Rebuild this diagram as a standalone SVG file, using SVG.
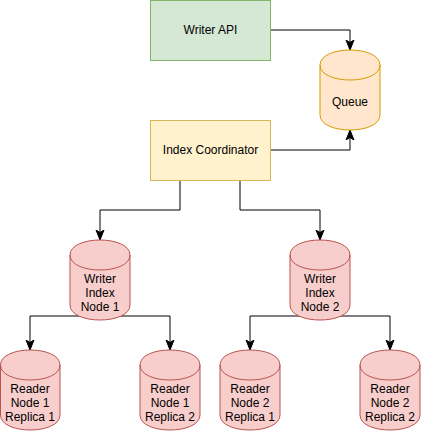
<svg xmlns="http://www.w3.org/2000/svg" width="421" height="431" viewBox="0 0 421 431">
<style>
text{font-family:"Liberation Sans",Arial,Helvetica,sans-serif;font-size:12px;fill:#000;text-anchor:middle}
.edge{fill:none;stroke:#000;stroke-width:1}
.red{fill:#f8cecc;stroke:#b85450;stroke-width:1}
.orange{fill:#ffe6cc;stroke:#d79b00;stroke-width:1}
.green{fill:#d5e8d4;stroke:#82b366;stroke-width:1}
.yellow{fill:#fff2cc;stroke:#d6b656;stroke-width:1}
.arc{fill:none}
</style>
<defs>
<marker id="arr" markerUnits="userSpaceOnUse" markerWidth="10" markerHeight="10" viewBox="0 0 10 10" refX="10" refY="5" orient="auto">
<path d="M0,1 L10,5 L0,9 L2.5,5 Z" fill="#000" stroke="#000" stroke-width="1"/>
</marker>
</defs>
<g id="connectors">
<path class="edge" d="M270,30 L350,30 L350,50" marker-end="url(#arr)"/>
<path class="edge" d="M270,150 L350,150 L350,130" marker-end="url(#arr)"/>
<path class="edge" d="M180,180 L180,210 L100,210 L100,240" marker-end="url(#arr)"/>
<path class="edge" d="M240,180 L240,210 L320,210 L320,240" marker-end="url(#arr)"/>
<path class="edge" d="M100,316 L30,316 L30,350" marker-end="url(#arr)"/>
<path class="edge" d="M100,316 L170,316 L170,350" marker-end="url(#arr)"/>
<path class="edge" d="M320,316 L250,316 L250,350" marker-end="url(#arr)"/>
<path class="edge" d="M320,316 L390,316 L390,350" marker-end="url(#arr)"/>
</g>
<g id="writer-api">
<rect class="green" x="150.5" y="0.5" width="120" height="60"/>
<text x="210.5" y="34">Writer API</text>
</g>
<g id="index-coordinator">
<rect class="yellow" x="150.5" y="120.5" width="120" height="60"/>
<text x="210.5" y="154">Index Coordinator</text>
</g>
<g id="queue">
<path class="orange" d="M320,65 C320,45 380,45 380,65 L380,115 C380,135 320,135 320,115 Z"/>
<path class="orange arc" d="M320,65 C320,85 380,85 380,65"/>
<text x="350" y="106">Queue</text>
</g>
<g id="writer-index-node-1">
<path class="red" d="M70,255 C70,235 130,235 130,255 L130,305 C130,325 70,325 70,305 Z"/>
<path class="red arc" d="M70,255 C70,275 130,275 130,255"/>
<text x="100" y="283">Writer</text>
<text x="100" y="297">Index</text>
<text x="100" y="311">Node 1</text>
</g>
<g id="writer-index-node-2">
<path class="red" d="M290,255 C290,235 350,235 350,255 L350,305 C350,325 290,325 290,305 Z"/>
<path class="red arc" d="M290,255 C290,275 350,275 350,255"/>
<text x="320" y="283">Writer</text>
<text x="320" y="297">Index</text>
<text x="320" y="311">Node 2</text>
</g>
<g id="reader-node-1-replica-1">
<path class="red" d="M0.5,365 C0.5,345 60,345 60,365 L60,415 C60,435 0.5,435 0.5,415 Z"/>
<path class="red arc" d="M0.5,365 C0.5,385 60,385 60,365"/>
<text x="30" y="393">Reader</text>
<text x="30" y="407">Node 1</text>
<text x="30" y="421">Replica 1</text>
</g>
<g id="reader-node-1-replica-2">
<path class="red" d="M140,365 C140,345 200,345 200,365 L200,415 C200,435 140,435 140,415 Z"/>
<path class="red arc" d="M140,365 C140,385 200,385 200,365"/>
<text x="170" y="393">Reader</text>
<text x="170" y="407">Node 1</text>
<text x="170" y="421">Replica 2</text>
</g>
<g id="reader-node-2-replica-1">
<path class="red" d="M220,365 C220,345 280,345 280,365 L280,415 C280,435 220,435 220,415 Z"/>
<path class="red arc" d="M220,365 C220,385 280,385 280,365"/>
<text x="250" y="393">Reader</text>
<text x="250" y="407">Node 2</text>
<text x="250" y="421">Replica 1</text>
</g>
<g id="reader-node-2-replica-2">
<path class="red" d="M360,365 C360,345 420,345 420,365 L420,415 C420,435 360,435 360,415 Z"/>
<path class="red arc" d="M360,365 C360,385 420,385 420,365"/>
<text x="390" y="393">Reader</text>
<text x="390" y="407">Node 2</text>
<text x="390" y="421">Replica 2</text>
</g>
</svg>
